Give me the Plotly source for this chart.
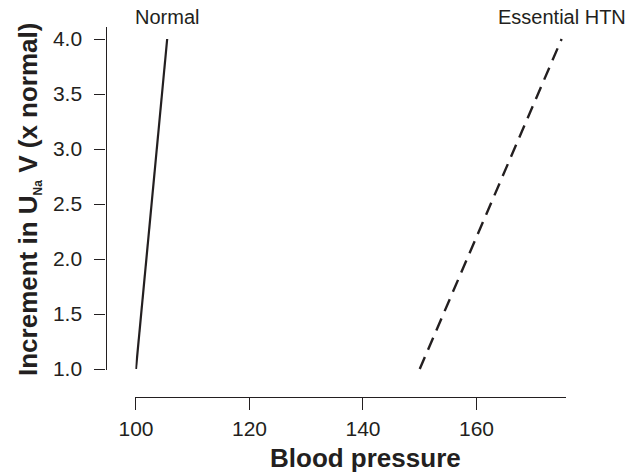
import plotly.graph_objects as go

# Data
normal_bp = [100, 105.5]
normal_inc = [1.0, 4.0]
htn_bp = [150, 175]
htn_inc = [1.0, 4.0]
x_ticks = [100, 120, 140, 160]
y_ticks = [1.0, 1.5, 2.0, 2.5, 3.0, 3.5, 4.0]
y_tick_labels = ["1.0", "1.5", "2.0", "2.5", "3.0", "3.5", "4.0"]
series_labels = ["Normal", "Essential HTN"]
x_title = "<b>Blood pressure</b>"
y_title = "<b>Increment in U<sub><span style='font-size:12px'>Na</span></sub> V (x normal)</b>"

INK = "#231f20"
FONT = "Liberation Sans, Arial, sans-serif"
W, H, OFF = 635, 472, 8  # page body margin offset


def px(sx):
    return (sx - OFF) / W


def py(sy):
    return (H + OFF - sy) / H


fig = go.Figure()
fig.add_trace(go.Scatter(x=normal_bp, y=normal_inc, mode="lines",
                         line=dict(color=INK, width=2.2), name=series_labels[0],
                         showlegend=False))
fig.add_trace(go.Scatter(x=htn_bp, y=htn_inc, mode="lines",
                         line=dict(color=INK, width=2.4, dash="13px,8px"),
                         name=series_labels[1], showlegend=False))

for lx, ly, txt in [(normal_bp[-1], normal_inc[-1], series_labels[0]),
                    (htn_bp[-1], htn_inc[-1], series_labels[1])]:
    fig.add_annotation(x=lx, y=ly, text=txt, showarrow=False,
                       xanchor="center", yanchor="bottom", yshift=9,
                       font=dict(family=FONT, size=20, color=INK))

# axis titles as paper annotations
fig.add_annotation(xref="paper", yref="paper", x=px(365), y=py(458),
                   text=x_title, showarrow=False, xanchor="center", yanchor="middle",
                   font=dict(family=FONT, size=26, color=INK))
fig.add_annotation(xref="paper", yref="paper", x=px(29), y=py(200),
                   text=y_title, showarrow=False, textangle=-90,
                   xanchor="center", yanchor="middle",
                   font=dict(family=FONT, size=26, color=INK))

fig.update_layout(
    width=W, height=H,
    margin=dict(l=0, r=0, t=0, b=0),
    paper_bgcolor="white", plot_bgcolor="white",
    font=dict(family=FONT, color=INK),
    xaxis=dict(
        domain=[px(135.4), px(565.6)], range=[99.9, 175.7],
        anchor="free", position=py(397), automargin=False,
        showgrid=False, zeroline=False,
        showline=True, linecolor=INK, linewidth=1.3,
        ticks="outside", ticklen=12, tickwidth=1.3, tickcolor=INK,
        tickvals=x_ticks, ticklabelstandoff=1,
        tickfont=dict(family=FONT, size=21, color=INK),
    ),
    yaxis=dict(
        domain=[py(370.1), py(26.9)], range=[0.99, 4.11],
        anchor="free", position=px(105.5), automargin=False,
        showgrid=False, zeroline=False,
        showline=True, linecolor=INK, linewidth=1.3,
        ticks="outside", ticklen=11, tickwidth=1.3, tickcolor=INK,
        tickvals=y_ticks, ticktext=y_tick_labels, ticklabelstandoff=8,
        tickfont=dict(family=FONT, size=21, color=INK),
    ),
)

fig.write_html("out.html")
